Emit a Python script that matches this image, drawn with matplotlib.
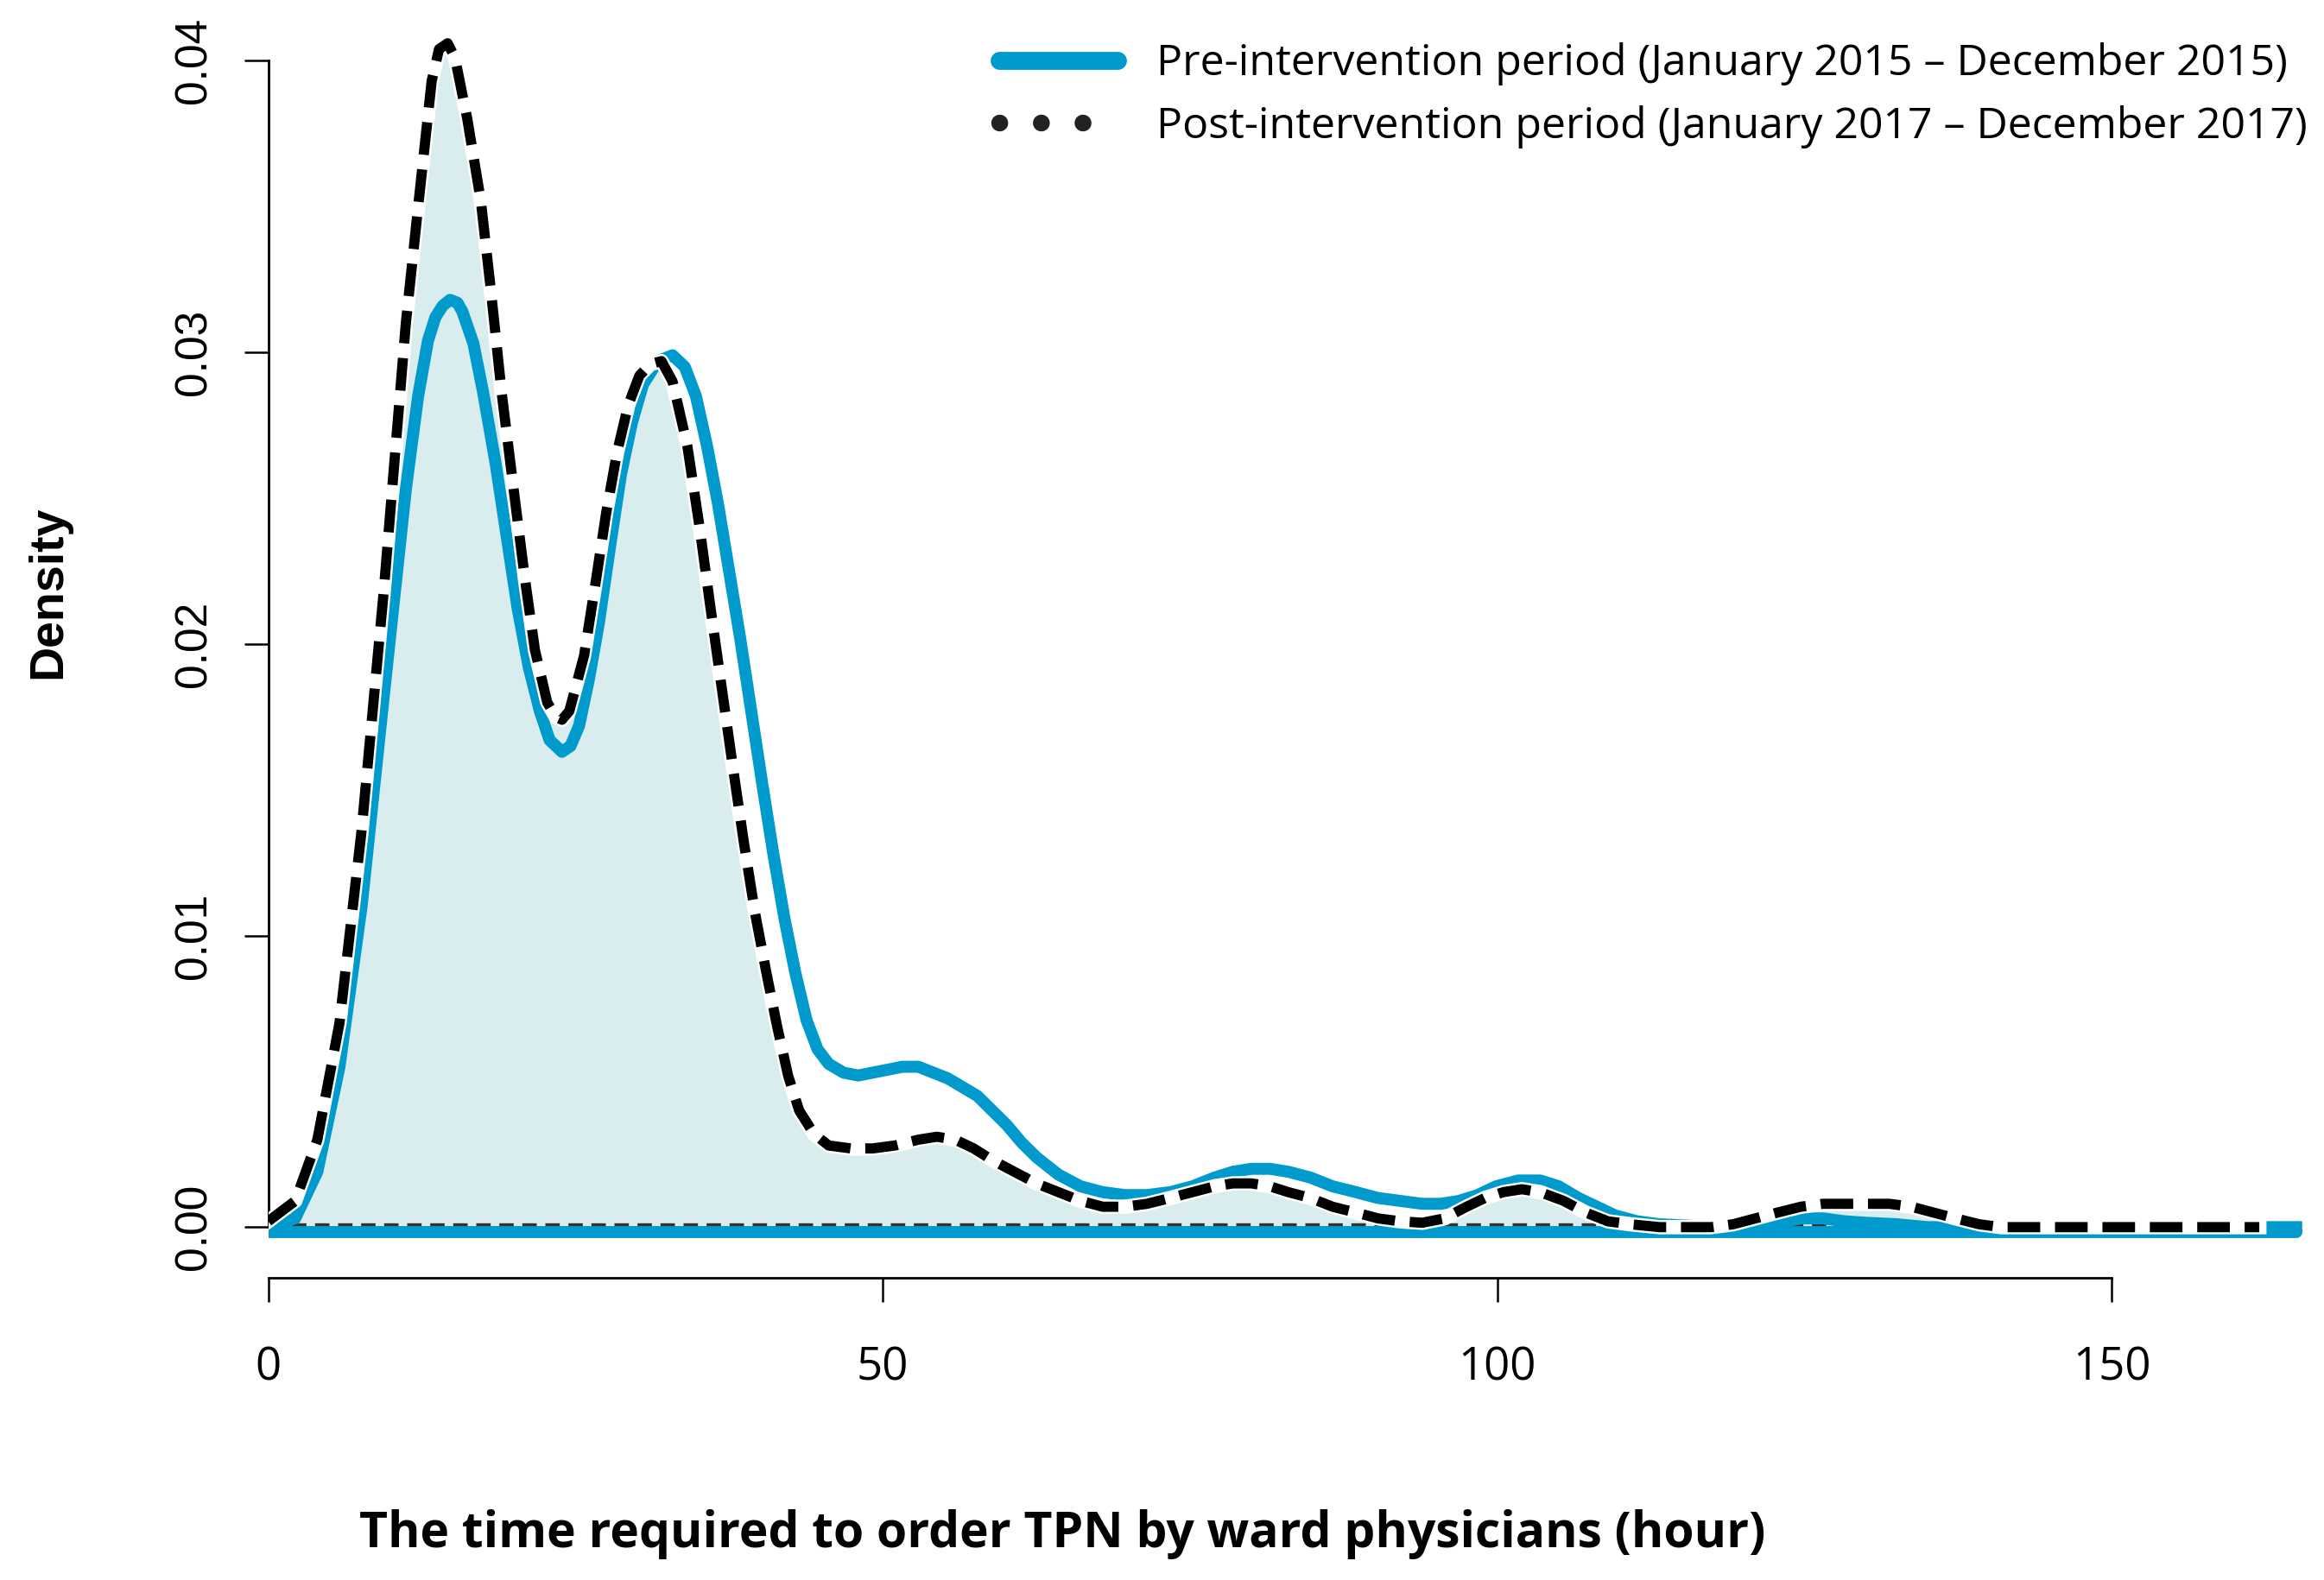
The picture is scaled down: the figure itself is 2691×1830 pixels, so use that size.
import matplotlib
matplotlib.use("Agg")
import matplotlib.pyplot as plt
from matplotlib import font_manager
from matplotlib.lines import Line2D


def pick_font(names):
    for n in names:
        try:
            font_manager.findfont(n, fallback_to_default=False)
            return n
        except Exception:
            pass
    return "DejaVu Sans"


narrow = pick_font(["Liberation Sans Narrow", "Open Sans"])
arial = pick_font(["Liberation Sans", "DejaVu Sans"])

# hours / density
post_x = [0, 2.2, 4, 5.8, 7.6, 9.4, 11.2, 12.2, 13.3, 13.9, 14.6, 15.2, 16.2, 17.3,
          18.1, 19, 20, 20.9, 21.7, 22.7, 23.4, 23.9, 24.5, 25.7, 26.6, 27.5, 28.4,
          29.3, 30.2, 31.1, 32, 32.9, 34.1, 35.1, 36, 36.9, 37.8, 38.7, 39.6, 40.5,
          41.4, 42.3, 43.2, 44.4, 45.6, 47.4, 49.2, 51, 52.9, 54.4, 55.9, 57.4, 58.9,
          60.7, 62.5, 64.3, 66.1, 67.9, 69.7, 71.5, 73.4, 75.2, 77, 78.5, 80, 81.5,
          83, 84.8, 86.6, 88.5, 90.3, 92.1, 93.9, 95.7, 97.5, 99, 100.5, 102, 103.5,
          105.4, 107.2, 109, 110.8, 113.2, 115.6, 117.4, 119.2, 121, 122.8, 124.7,
          126.5, 128.3, 130, 131.9, 133.7, 135.5, 137.3, 139.2, 141, 150, 162]
post_y = [0.0002, 0.0009, 0.003, 0.007, 0.0136, 0.0218, 0.031, 0.035, 0.0393, 0.0404,
          0.0406, 0.0401, 0.038, 0.0352, 0.0322, 0.0286, 0.0252, 0.0222, 0.0198,
          0.018, 0.0175, 0.0174, 0.0177, 0.0196, 0.022, 0.0245, 0.0266, 0.0282,
          0.0292, 0.0296, 0.0297, 0.029, 0.0268, 0.024, 0.0212, 0.0185, 0.0158,
          0.0132, 0.0108, 0.0088, 0.0069, 0.0052, 0.004, 0.0032, 0.0028, 0.0027,
          0.0027, 0.0028, 0.003, 0.0031, 0.003, 0.0027, 0.0023, 0.0019, 0.0015,
          0.0012, 0.0009, 0.0007, 0.0007, 0.0008, 0.001, 0.0012, 0.0014, 0.0015,
          0.0015, 0.0014, 0.0012, 0.001, 0.0007, 0.0005, 0.0003, 0.0002, 0.00015,
          0.0003, 0.0007, 0.001, 0.0012, 0.0013, 0.0012, 0.0009, 0.0005, 0.0002,
          0.0001, 0.0, 0.0, 0.0, 0.0001, 0.0003, 0.0005, 0.0007, 0.0008, 0.0008,
          0.0008, 0.0008, 0.0007, 0.0005, 0.0003, 0.0001, 0.0, 0.0, 0.0]

pre_x = [0, 2.2, 4, 5.8, 7.6, 9.4, 11.2, 12.2, 13, 13.6, 14.2, 14.8, 15.4, 15.8, 16.7,
         17.5, 18.5, 19.4, 20.3, 21.2, 22.1, 22.9, 23.9, 24.6, 25.3, 26.1, 26.9, 27.8,
         28.7, 29.6, 30.5, 31.7, 32.9, 33.9, 34.8, 35.7, 36.6, 37.5, 38.4, 39.3, 40.2,
         41.1, 42, 42.9, 43.8, 44.7, 45.6, 46.8, 48, 49.2, 50.4, 51.6, 52.9, 54.1,
         55.3, 56.5, 57.7, 58.9, 60.1, 61.3, 62.5, 64.3, 66.1, 67.9, 69.7, 71.5, 73.4,
         75.2, 77, 78.5, 80, 81.5, 83, 84.8, 86.6, 88.5, 90.3, 92.1, 93.9, 95.4, 96.9,
         98.4, 99.9, 101.7, 103.5, 105, 106.6, 108.1, 109.6, 111.4, 113.2, 118, 120.4,
         122.8, 124.7, 126.5, 128.3, 130, 132.5, 135, 150, 165]
pre_y = [0.0, 0.0003, 0.0019, 0.0055, 0.011, 0.0182, 0.0253, 0.0285, 0.0304, 0.0312,
         0.0316, 0.0318, 0.0317, 0.0314, 0.0303, 0.0286, 0.0262, 0.0237, 0.0212,
         0.0192, 0.0177, 0.0167, 0.0163, 0.0165, 0.0172, 0.0188, 0.0207, 0.0233,
         0.0258, 0.0276, 0.0289, 0.0297, 0.0299, 0.0295, 0.0285, 0.0268, 0.0248,
         0.0225, 0.0202, 0.0177, 0.0152, 0.0128, 0.0106, 0.0087, 0.0071, 0.0061,
         0.0056, 0.0053, 0.0052, 0.0053, 0.0054, 0.0055, 0.0055, 0.0053, 0.0051,
         0.0048, 0.0045, 0.004, 0.0035, 0.0029, 0.0024, 0.0018, 0.0014, 0.0012,
         0.0011, 0.0011, 0.0012, 0.0014, 0.0017, 0.0019, 0.002, 0.002, 0.0019, 0.0017,
         0.0014, 0.0012, 0.001, 0.0009, 0.0008, 0.0008, 0.0009, 0.0011, 0.0014,
         0.0016, 0.0016, 0.0014, 0.001, 0.0007, 0.0004, 0.0002, 0.0001, 0.0, 0.0001,
         0.00015, 0.0003, 0.0003, 0.0002, 0.00015, 0.0001, 0.0, 0.0, 0.0]

x_ticks = [0, 50, 100, 150]
y_ticks = [0.00, 0.01, 0.02, 0.03, 0.04]
y_labels = ["0.00", "0.01", "0.02", "0.03", "0.04"]
pre_label = "Pre-intervention period (January 2015 \u2013 December 2015)"
post_label = "Post-intervention period (January 2017 \u2013 December 2017)"

blue = "#009bcc"
fill = "#d9edee"

fig = plt.figure(figsize=(26.91, 18.30), dpi=100)
ax = fig.add_axes([0.1154, 0.1914, 0.8795, 0.7851])

ax.fill_between(post_x, 0, post_y, color=fill, lw=0, zorder=1)
# baselines of the two polygons
ax.plot([0, pre_x[-1]], [-0.00016, -0.00016], color=blue, lw=10,
        solid_capstyle="round", zorder=2)
ax.plot([0, post_x[-1]], [0.0001, 0.0001], color="#333333", lw=2.4,
        linestyle=(0, (5, 3)), zorder=3)
ax.plot(pre_x, pre_y, color=blue, lw=10, solid_joinstyle="round", zorder=4)
ax.plot(post_x, post_y, color="white", lw=12, solid_joinstyle="round", zorder=5)
ax.plot(post_x, post_y, color="black", lw=8.5, linestyle=(0, (3.2, 1.45)), zorder=6)

ax.set_xlim(0, 166.3)
ax.set_ylim(-0.00173, 0.04081)

for s in ["top", "right"]:
    ax.spines[s].set_visible(False)
ax.spines["left"].set_bounds(0, 0.04)
ax.spines["bottom"].set_bounds(0, 150)
ax.spines["left"].set_linewidth(2)
ax.spines["bottom"].set_linewidth(2)

ax.set_xticks(x_ticks)
ax.set_xticklabels([str(v) for v in x_ticks], fontfamily=narrow, fontsize=38)
ax.set_yticks(y_ticks)
ax.set_yticklabels(y_labels, fontfamily=arial, fontsize=37, rotation=90, va="center")
ax.tick_params(axis="both", length=20, width=1.8)
ax.tick_params(axis="x", pad=36)
ax.tick_params(axis="y", pad=24)

fig.text(0.021, 0.625, "Density", rotation=90, ha="center", va="center",
         fontsize=40, fontweight="bold", fontfamily=arial)
fig.text(0.457, 0.029, "The time required to order TPN by ward physicians (hour)",
         ha="center", va="center", fontsize=41, fontweight="bold", fontfamily=narrow)

handles = [
    Line2D([], [], color=blue, lw=15, solid_capstyle="round"),
    Line2D([], [], color="#222222", lw=14, linestyle=(0, (0.01, 2.47)),
           dash_capstyle="round"),
]
ax.legend(handles, [pre_label, post_label], loc="upper right",
          bbox_to_anchor=(0.993, 0.973), bbox_transform=fig.transFigure,
          frameon=False, prop={"family": narrow, "size": 36}, borderpad=0,
          borderaxespad=0, handlelength=2.74, handletextpad=0.9, labelspacing=0.45)

fig.savefig("out.png", dpi=100)
